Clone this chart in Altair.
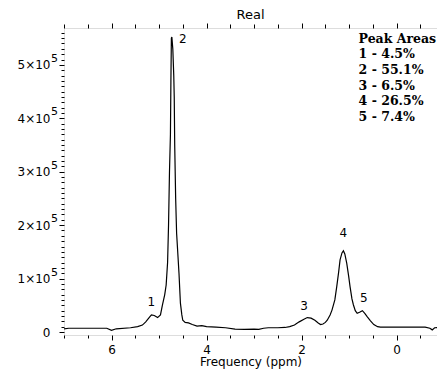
import altair as alt
import pandas as pd

# spectrum (ppm, intensity)
ppm = [7.0, 6.9, 6.5, 6.1, 6.0, 5.9, 5.6, 5.45, 5.35, 5.28, 5.2, 5.16, 5.1, 5.03, 4.97, 4.93,
       4.88, 4.85, 4.82, 4.80, 4.78, 4.76, 4.75, 4.74, 4.73, 4.71, 4.69, 4.68, 4.67, 4.65, 4.63,
       4.60, 4.58, 4.55, 4.52, 4.50, 4.45, 4.38, 4.3, 4.2, 4.1, 4.0, 3.8, 3.6, 3.4, 3.2, 3.0, 2.9,
       2.8, 2.7, 2.5, 2.35, 2.25, 2.15, 2.05, 1.95, 1.88, 1.80, 1.72, 1.65, 1.60, 1.55, 1.50, 1.46,
       1.40, 1.36, 1.30, 1.26, 1.22, 1.19, 1.15, 1.12, 1.09, 1.05, 1.01, 0.98, 0.94, 0.91, 0.87,
       0.83, 0.78, 0.72, 0.67, 0.62, 0.55, 0.48, 0.40, 0.34, 0.1, -0.3, -0.6, -0.7, -0.75, -0.8, -1.0]
intensity = [6, 7, 7, 7, 3, 6, 8, 10, 13, 19, 28, 32, 31, 27, 32, 50,
             70, 88, 130, 200, 300, 370, 470, 550, 552, 530, 480, 440, 350, 250, 185,
             140, 110, 54, 32, 22, 18, 17, 14, 11, 12, 10, 9, 8, 5.5, 5, 5.5, 5,
             7, 8, 8, 8.5, 10, 13, 19, 24, 27, 26, 22, 17, 14, 15, 18, 22,
             32, 41, 60, 85, 112, 135, 148, 152, 146, 129, 105, 85, 62, 51, 40,
             35, 37, 40, 35, 29, 21, 14, 10, 9, 9, 9, 9, 7, 4, 8, 9]
intensity = [v * 1000 for v in intensity]

# peak labels
peak_ppm = [5.16, 4.50, 1.95, 1.12, 0.69]
peak_y = [57000, 548000, 49000, 185000, 63000]
peak_text = ["1", "2", "3", "4", "5"]

# peak area legend
area_lines = ["Peak Areas", "1 - 4.5%", "2 - 55.1%", "3 - 6.5%", "4 - 26.5%", "5 - 7.4%"]

x_ticks = [v / 2 for v in range(-1, 15)]
y_ticks = list(range(0, 570000, 10000))
y_major = [100000, 200000, 300000, 400000, 500000]

df = pd.DataFrame({"ppm": ppm, "I": intensity})
peaks = pd.DataFrame({"ppm": peak_ppm, "I": peak_y, "t": peak_text})
sup = pd.DataFrame({"I": y_major})

FONT = "DejaVu Sans"


def xs():
    return alt.Scale(domain=[-0.85, 7], reverse=True, nice=False, zero=False)


def ys():
    return alt.Scale(domain=[-5600, 569000], nice=False, zero=False)


xaxis = alt.Axis(
    orient="bottom", values=x_ticks, grid=False, domain=False, labelOverlap=False,
    labelExpr="(datum.value % 2 == 0 && datum.value >= 0 && datum.value <= 6) ? format(datum.value, 'd') : ''",
    tickSize={"condition": {"test": "datum.value % 2 == 0", "value": 5}, "value": 3},
    tickColor="black", labelColor="black", labelFont=FONT, labelFontSize=12,
    labelPadding=4, title="Frequency (ppm)", titleFont=FONT, titleFontSize=12,
    titleFontWeight="normal", titleColor="black", titlePadding=1, labelFlush=False,
)
yaxis = alt.Axis(
    orient="left", values=y_ticks, grid=False, domain=False, labelOverlap=False,
    labelExpr="datum.value == 0 ? '0' : (datum.value % 100000 == 0 ? format(datum.value/100000, 'd') + '×10' : '')",
    tickSize={"condition": {"test": "datum.value % 100000 == 0", "value": 5}, "value": 3},
    tickColor="black", labelColor="black", labelFont=FONT, labelFontSize=12,
    labelPadding=9, title=None, labelFlush=False,
)

line = alt.Chart(df).mark_line(color="black", strokeWidth=1.2, clip=True).encode(
    x=alt.X("ppm:Q", scale=xs(), axis=xaxis),
    y=alt.Y("I:Q", scale=ys(), axis=yaxis),
)

top = alt.Chart(df).mark_line(opacity=0).encode(
    x=alt.X("ppm:Q", scale=xs(), axis=alt.Axis(
        orient="top", values=x_ticks, labels=False, domain=False, grid=False, title=None,
        tickColor="black",
        tickSize={"condition": {"test": "datum.value % 2 == 0", "value": 5}, "value": 4})),
    y=alt.Y("I:Q", scale=ys(), axis=None),
)

labels = alt.Chart(peaks).mark_text(font=FONT, fontSize=12, color="black").encode(
    x=alt.X("ppm:Q", scale=xs(), axis=None),
    y=alt.Y("I:Q", scale=ys(), axis=None), text="t:N"
)

sups = alt.Chart(sup).mark_text(font=FONT, fontSize=11, color="black", align="right",
                                 dy=-6).encode(
    x=alt.value(-6), y=alt.Y("I:Q", scale=ys(), axis=None), text=alt.value("5")
)

legend = alt.Chart(pd.DataFrame({"a": [0]})).mark_text(
    font="DejaVu Serif", fontSize=12.5, fontWeight="bold", color="black",
    align="left", baseline="top", lineHeight=15.6,
).encode(
    x=alt.datum(0.8, scale=xs(), axis=None),
    y=alt.datum(560000, scale=ys(), axis=None),
    text=alt.value(area_lines),
)

chart = alt.layer(line, top, labels, sups, legend).resolve_scale(
    x="independent", y="independent"
).properties(
    width=373, height=307,
    title=alt.TitleParams("Real", font=FONT, fontSize=13, fontWeight="normal",
                          color="black", offset=1, anchor="middle"),
    autosize=alt.AutoSizeParams(type="none"),
    padding={"left": 56, "top": 20, "right": 0, "bottom": 35},
).configure_view(stroke="black", strokeWidth=1).configure(background="white")

chart.save("out.html", embed_options={"renderer": "svg", "actions": False})
